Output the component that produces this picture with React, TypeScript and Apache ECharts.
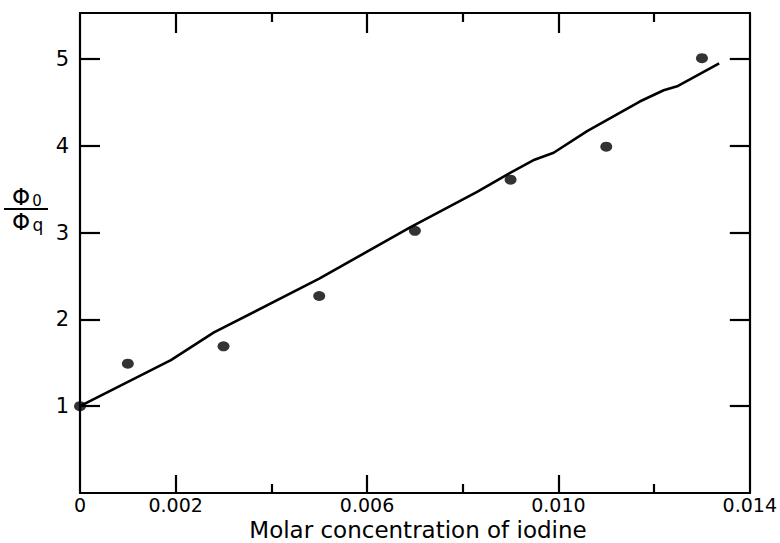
import React, { useEffect, useRef } from "react";
import * as echarts from "echarts";

// Measured points (x: molar concentration of iodine, y: Φ0/Φq)
const pointX = [0, 0.001, 0.003, 0.005, 0.007, 0.009, 0.011, 0.013];
const pointY = [1.0, 1.49, 1.69, 2.27, 3.02, 3.61, 3.99, 5.01];

// Hand-drawn fitted line, read along its course
const lineX = [0, 0.0019, 0.0028, 0.005, 0.0069, 0.0083, 0.0090, 0.0095, 0.0099, 0.0106, 0.0117, 0.0122, 0.0125, 0.01336];
const lineY = [1.0, 1.53, 1.85, 2.47, 3.06, 3.47, 3.69, 3.84, 3.92, 4.17, 4.51, 4.64, 4.69, 4.95];

const xLabelValues = [0, 0.002, 0.006, 0.01, 0.014];
const xLabelTexts = ["0", "0.002", "0.006", "0.010", "0.014"];
const xMajorTicks = [0.002, 0.006, 0.01];
const xMinorTicks = [0.004, 0.008, 0.012];
const yTickValues = [1, 2, 3, 4, 5];
const yLabelTexts = ["1", "2", "3", "4", "5"];

const X_MIN = 0;
const X_MAX = 0.014;
const Y_MIN = 0;
const Y_MAX = 5.53;

const FONT = "DejaVu Sans";

export default function App() {
  const ref = useRef<HTMLDivElement>(null);

  useEffect(() => {
    if (!ref.current) return;
    const chart = echarts.init(ref.current, null, { renderer: "svg" });

    const axisLine = { show: true, onZero: false, lineStyle: { color: "#000", width: 2.2 } };

    const baseX = (pos: "top" | "bottom", ticks: number[], len: number, labels: boolean) => ({
      type: "value",
      position: pos,
      min: X_MIN,
      max: X_MAX,
      axisLine,
      splitLine: { show: false },
      axisTick: {
        show: true,
        inside: true,
        length: len,
        customValues: ticks,
        lineStyle: { color: "#000", width: 2.2 },
      },
      axisLabel: labels
        ? {
            show: true,
            customValues: xLabelValues,
            margin: 2,
            color: "#000",
            fontFamily: FONT,
            fontSize: 19,
            formatter: (v: number) => {
              const i = xLabelValues.findIndex((t) => Math.abs(t - v) < 1e-9);
              return i >= 0 ? xLabelTexts[i] : "";
            },
          }
        : { show: false },
    });

    const baseY = (pos: "left" | "right", labels: boolean) => ({
      type: "value",
      position: pos,
      min: Y_MIN,
      max: Y_MAX,
      axisLine,
      splitLine: { show: false },
      axisTick: {
        show: true,
        inside: true,
        length: 20,
        customValues: yTickValues,
        lineStyle: { color: "#000", width: 2.2 },
      },
      axisLabel: labels
        ? {
            show: true,
            customValues: yTickValues,
            margin: 11,
            color: "#000",
            fontFamily: FONT,
            fontSize: 21,
            formatter: (v: number) => {
              const i = yTickValues.findIndex((t) => Math.abs(t - v) < 1e-9);
              return i >= 0 ? yLabelTexts[i] : "";
            },
          }
        : { show: false },
    });

    chart.setOption({
      animation: false,
      backgroundColor: "#fff",
      grid: { left: 80, right: 24, top: 13, bottom: 50 },
      xAxis: [
        baseX("bottom", xMajorTicks, 18, true),
        baseX("bottom", xMinorTicks, 9, false),
        baseX("top", xMajorTicks, 20, false),
        baseX("top", xMinorTicks, 9, false),
      ],
      yAxis: [baseY("left", true), baseY("right", false)],
      series: [
        {
          type: "line",
          xAxisIndex: 0,
          yAxisIndex: 0,
          data: lineX.map((x, i) => [x, lineY[i]]),
          showSymbol: false,
          symbol: "none",
          lineStyle: { color: "#000", width: 2.6 },
          z: 2,
        },
        {
          type: "scatter",
          xAxisIndex: 0,
          yAxisIndex: 0,
          data: pointX.map((x, i) => [x, pointY[i]]),
          symbol: "circle",
          symbolSize: [12, 10],
          itemStyle: { color: "#000" },
          z: 3,
        },
      ],
      graphic: [
        {
          type: "text",
          x: 418,
          y: 530,
          style: {
            text: "Molar concentration of iodine",
            fontFamily: FONT,
            fontSize: 23,
            fill: "#000",
            textAlign: "center",
            textVerticalAlign: "middle",
          },
        },
        {
          type: "text",
          x: 21,
          y: 197,
          style: {
            text: "Φ",
            fontFamily: FONT,
            fontSize: 23,
            fill: "#000",
            textAlign: "center",
            textVerticalAlign: "middle",
          },
        },
        {
          type: "text",
          x: 37,
          y: 201,
          style: {
            text: "0",
            fontFamily: FONT,
            fontSize: 15,
            fill: "#000",
            textAlign: "center",
            textVerticalAlign: "middle",
          },
        },
        {
          type: "line",
          shape: { x1: 4, y1: 209, x2: 48, y2: 209 },
          style: { stroke: "#000", lineWidth: 2 },
        },
        {
          type: "text",
          x: 21,
          y: 222,
          style: {
            text: "Φ",
            fontFamily: FONT,
            fontSize: 23,
            fill: "#000",
            textAlign: "center",
            textVerticalAlign: "middle",
          },
        },
        {
          type: "text",
          x: 38,
          y: 225,
          style: {
            text: "q",
            fontFamily: FONT,
            fontSize: 17,
            fill: "#000",
            textAlign: "center",
            textVerticalAlign: "middle",
          },
        },
      ],
    });

    return () => chart.dispose();
  }, []);

  return (
    <div
      ref={ref}
      style={{ position: "fixed", left: 0, top: 0, width: 780, height: 543, background: "#fff" }}
    />
  );
}
